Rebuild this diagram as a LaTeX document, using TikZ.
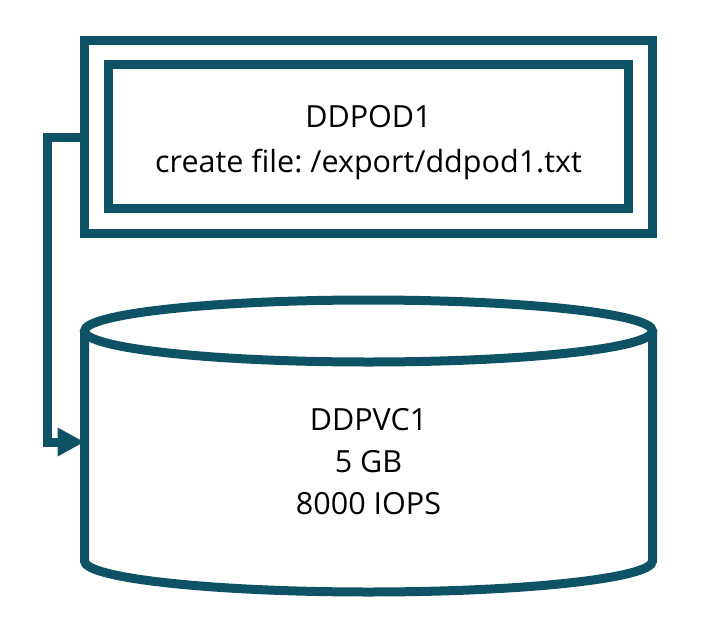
\documentclass[tikz,border=0pt]{standalone}
\usepackage{fontspec}
\setmainfont{Open Sans}
\frenchspacing
\usetikzlibrary{arrows.meta}

\definecolor{podteal}{RGB}{14,83,101}

\tikzset{
    frame/.style={draw=podteal, line width=9pt, rectangle, inner sep=0pt, outer sep=0pt},
    caption/.style={font=\fontsize{30.5}{44}\selectfont, align=center, text=black},
    link/.style={draw=podteal, line width=9pt, line join=miter, -{Triangle[length=27pt, width=27pt]}}
}

\begin{document}
\begin{tikzpicture}[x=1pt, y=-1pt]
        \useasboundingbox (0,0) rectangle (718,624);

        % pod: outer and inner frame
        \node [frame, minimum width=568pt, minimum height=193pt] (pod) at (368.5, 137) {};
        \node [frame, minimum width=519.5pt, minimum height=144.3pt] (podin) at (368.25, 136.6) {};
        \node [caption, font=\fontsize{30.5}{45}\selectfont] (podtext) at (368.5, 143)
            {DDPOD1\\create file: /export/ddpod1.txt};

        % volume
        \draw [podteal, line width=9pt] (84.5, 331) -- (84.5, 561)
            arc [start angle=180, end angle=0, x radius=284, y radius=31] -- (652.5, 331);
        \draw [podteal, line width=9pt] (368.5, 331) ellipse [x radius=284, y radius=31];
        \node [caption, font=\fontsize{30.5}{42}\selectfont] (pvc) at (368.5, 462) {DDPVC1\\5 GB\\8000 IOPS};

        \coordinate (pvcside) at (84.5, 442);
        \draw [link] (pod.west) -- ++(-37, 0) |- (pvcside);
    \end{tikzpicture}
\end{document}
